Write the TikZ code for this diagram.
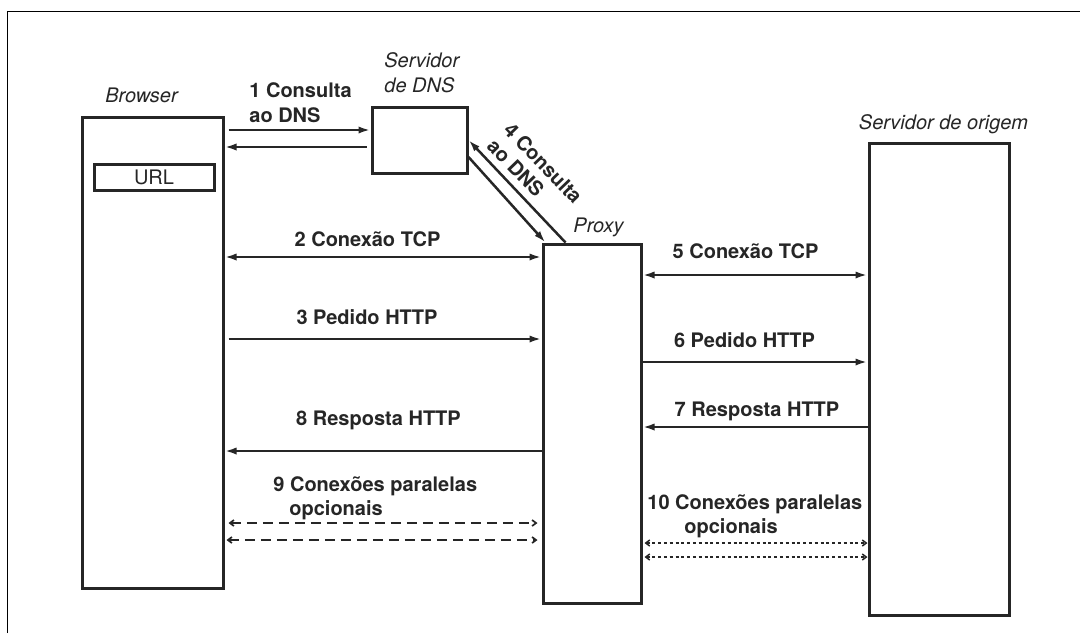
\documentclass[tikz,border=0pt]{standalone}
\usepackage{fontspec}
\setmainfont{TeX Gyre Heros}
\usetikzlibrary{arrows.meta}
\begin{document}
\begin{tikzpicture}[x=0.5pt,y=-0.5pt,
  box/.style={draw=black!85, line width=1.5pt, rectangle, inner sep=0pt},
  lbl/.style={font=\fontsize{10}{12}\selectfont\bfseries, text=black!85, inner sep=0pt},
  actor/.style={font=\fontsize{10}{12}\selectfont\itshape, text=black!85, inner sep=0pt},
  msg/.style={draw=black!85, line width=1.25pt, -{Latex[length=6pt,width=3.6pt]}},
  dmsg/.style={draw=black!85, line width=1.25pt, {Latex[length=6pt,width=3.6pt]}-{Latex[length=6pt,width=3.6pt]}},
  optdash/.style={draw=black!85, line width=0.85pt, dash pattern=on 5pt off 3pt,
    {Straight Barb[length=2pt,width=3pt]}-{Straight Barb[length=2pt,width=3pt]}},
  optdot/.style={draw=black!85, line width=0.75pt, dash pattern=on 1.5pt off 1.4pt,
    {Straight Barb[length=2pt,width=3pt]}-{Straight Barb[length=2pt,width=3pt]}}
]
\fill[white] (0,0) rectangle (1080,633);
\useasboundingbox (0,0) rectangle (1080,633);

% page frame
\draw[line width=0.6pt] (7.5,633) -- (7.5,11.5) -- (1080,11.5);

% hosts
\node[box, minimum width=70.5pt, minimum height=235.5pt] (browser) at (152.5,352.5) {};
\node[box, minimum width=60pt, minimum height=13pt, font=\fontsize{10}{12}\selectfont, text=black!85] (url) at (154,177) {URL};
\node[box, minimum width=47.5pt, minimum height=33pt] (dns) at (419.5,140) {};
\node[box, minimum width=49pt, minimum height=179.5pt] (proxy) at (592,423.5) {};
\node[box, minimum width=70pt, minimum height=236pt] (origin) at (939,379) {};

% host names
\node[actor, anchor=base] (browserlbl) at (141.5,102.5) {Browser};
\node[actor, anchor=base west] (dnslbl1) at (384,67) {Servidor};
\node[actor, anchor=base west] (dnslbl2) at (384,92) {de DNS};
\node[actor, anchor=base] (proxylbl) at (598.5,232) {Proxy};
\node[actor, anchor=base] (originlbl) at (943.5,129) {Servidor de origem};

% message labels
\node[lbl, anchor=base west] (q1a) at (249,97) {1 Consulta};
\node[lbl, anchor=base west] (q1b) at (249,122) {ao DNS};
\node[lbl, anchor=base] (tcp2) at (367.5,246) {2 Conexão TCP};
\node[lbl, anchor=base] (http3) at (367,324) {3 Pedido HTTP};
\node[lbl, anchor=base] (resp8) at (378.5,425) {8 Resposta HTTP};
\node[lbl, anchor=base west] (par9a) at (273,491) {9 Conexões paralelas};
\node[lbl, anchor=base west] (par9b) at (289,515) {opcionais};
\node[lbl, rotate=-46, align=left, font=\fontsize{10}{11.5}\selectfont\bfseries] (q4) at (535,171) {4 Consulta\\ao DNS};
\node[lbl, anchor=base] (tcp5) at (745.5,258) {5 Conexão TCP};
\node[lbl, anchor=base] (http6) at (744.5,347) {6 Pedido HTTP};
\node[lbl, anchor=base] (resp7) at (757,416) {7 Resposta HTTP};
\node[lbl, anchor=base west] (par10a) at (647,509) {10 Conexões paralelas};
\node[lbl, anchor=base west] (par10b) at (684,533) {opcionais};

% browser <-> DNS
\draw[msg] ([xshift=2pt]browser.east |- 0,130) -- (dns.west |- 0,130);
\draw[msg] ([xshift=-2pt]dns.west |- 0,147) -- (browser.east |- 0,147);

% proxy <-> DNS
\draw[msg] ([xshift=12pt]proxy.north west) -- (dns.east |- 0,140);
\draw[msg] (dns.east |- 0,157) -- ([xshift=2pt]proxy.north west);

% browser <-> proxy
\draw[dmsg] (browser.east |- 0,257) -- (proxy.west |- 0,257);
\draw[msg] ([xshift=2pt]browser.east |- 0,339) -- (proxy.west |- 0,339);
\draw[msg] (proxy.west |- 0,451) -- (browser.east |- 0,451);
\draw[optdash] ([xshift=2pt]browser.east |- 0,523) -- ([xshift=-2pt]proxy.west |- 0,523);
\draw[optdash] ([xshift=1pt]browser.east |- 0,540) -- ([xshift=-2pt]proxy.west |- 0,540);

% proxy <-> origin server
\draw[dmsg] (proxy.east |- 0,275) -- (origin.west |- 0,275);
\draw[msg] (proxy.east |- 0,362) -- (origin.west |- 0,362);
\draw[msg] (origin.west |- 0,427) -- (proxy.east |- 0,427);
\draw[optdot] ([xshift=1pt]proxy.east |- 0,543) -- (origin.west |- 0,543);
\draw[optdot] ([xshift=1pt]proxy.east |- 0,557) -- (origin.west |- 0,557);
\end{tikzpicture}
\end{document}
